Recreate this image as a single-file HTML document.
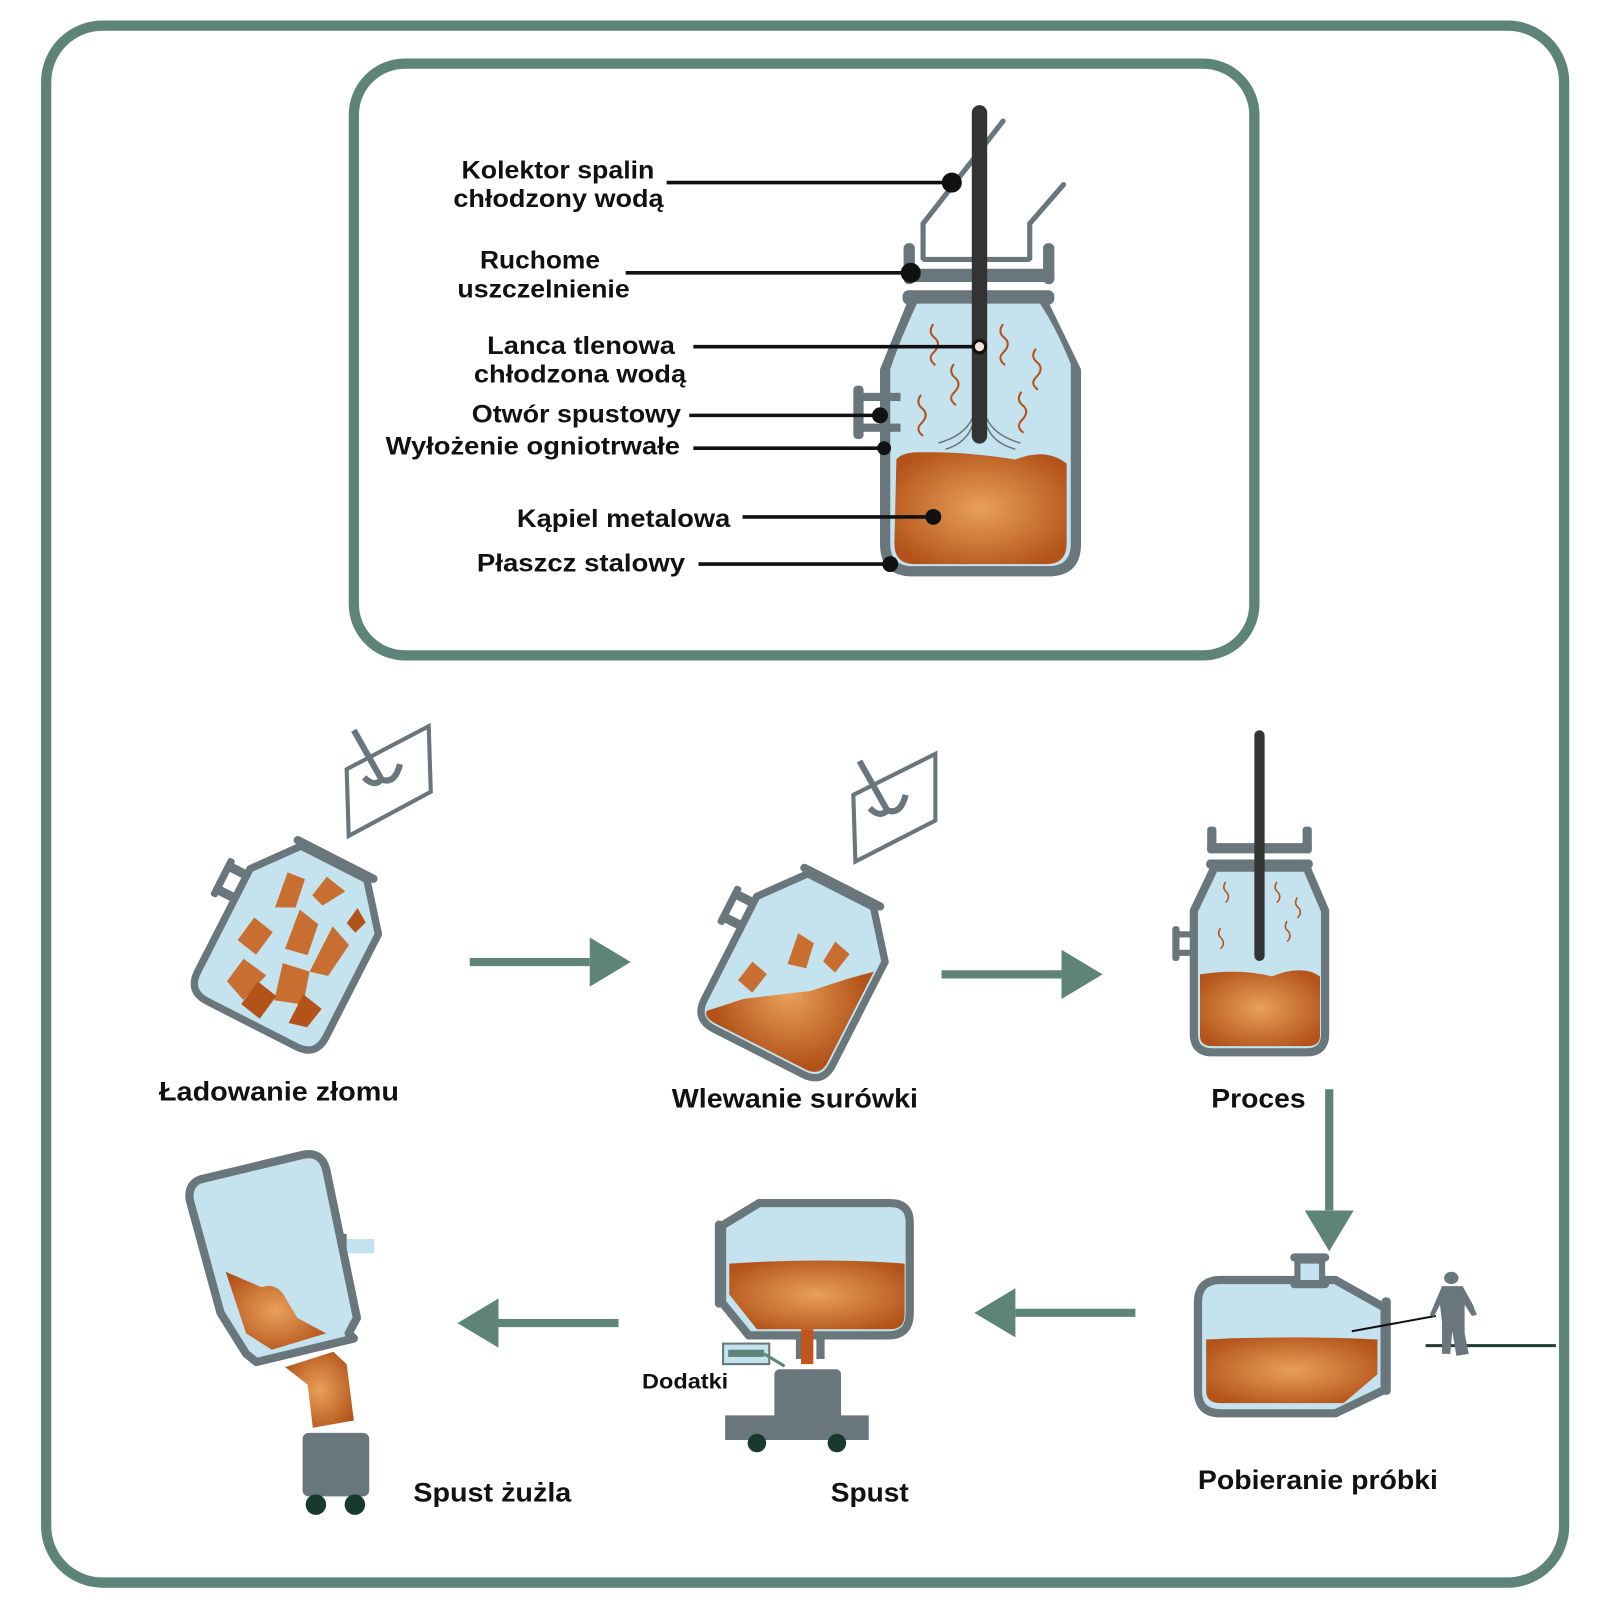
<!DOCTYPE html>
<html><head><meta charset="utf-8"><style>
html,body{margin:0;padding:0;background:#fff}
svg{display:block}
text{font-family:"Liberation Sans",sans-serif;font-weight:bold;fill:#111}
</style></head><body>
<svg width="1600" height="1600" viewBox="0 0 1560 1560" xmlns="http://www.w3.org/2000/svg">
<defs>
<radialGradient id="m" cx="50%" cy="50%" r="60%"><stop offset="0" stop-color="#e8a05a"/><stop offset="1" stop-color="#b3531a"/></radialGradient>
<marker id="ah" markerWidth="6" markerHeight="6" refX="0" refY="3" orient="auto" markerUnits="strokeWidth"><path d="M0,0 L5,3 L0,6 Z" fill="#5e8479"/></marker>
</defs>
<rect x="45" y="25" width="1480" height="1518" rx="55" fill="none" stroke="#5e8479" stroke-width="10"/>
<rect x="345" y="62" width="878" height="577" rx="50" fill="none" stroke="#5e8479" stroke-width="10"/>

<g>
<polyline points="900,252 900,218 978,118" fill="none" stroke="#69767c" stroke-width="5" stroke-linecap="round"/>
<polyline points="1004,252 1004,218 1037,180" fill="none" stroke="#69767c" stroke-width="5" stroke-linecap="round"/>
<line x1="900" y1="253" x2="1004" y2="253" stroke="#69767c" stroke-width="5"/>
<rect x="881" y="237" width="11" height="40" rx="5" fill="#69767c"/>
<rect x="1017" y="237" width="11" height="40" rx="5" fill="#69767c"/>
<rect x="881" y="262" width="147" height="13" rx="4" fill="#69767c"/>
<rect x="880" y="283" width="148" height="14" rx="6" fill="#69767c"/>
<path d="M884,296 L1023,296 L1054,360 L1054,530 Q1054,562 1022,562 L890,562 Q858,562 858,530 L858,360 Z" fill="#69767c"/>
<path d="M894,296 L1014,296 Q1030,320 1044,355 L1044,530 Q1044,552 1022,552 L890,552 Q868,552 868,530 L868,360 Q878,330 894,296 Z" fill="#c5e3ee"/>
<rect x="832" y="376" width="10" height="52" rx="4" fill="#69767c"/>
<rect x="836" y="383" width="42" height="8" fill="#69767c"/>
<rect x="836" y="413" width="42" height="8" fill="#69767c"/>
<path d="M874,448 Q880,440 900,441 Q940,440 990,448 Q1020,436 1040,452 L1040,530 Q1040,550 1020,550 L892,550 Q872,550 872,530 Z" fill="url(#m)"/>
<g fill="none" stroke="#b3531a" stroke-width="2">
<path d="M910,316 q-6,8 2,14 q6,6 -2,14 q-6,6 2,12"/><path d="M978,316 q-6,8 2,14 q6,6 -2,14 q-6,6 2,12"/>
<path d="M1010,340 q-6,8 2,14 q6,6 -2,14 q-6,6 2,12"/><path d="M930,355 q-6,8 2,14 q6,6 -2,14 q-6,6 2,12"/>
<path d="M996,382 q-6,8 2,14 q6,6 -2,14 q-6,6 2,12"/><path d="M898,385 q-6,8 2,14 q6,6 -2,14 q-6,6 2,12"/>
</g>
<g fill="none" stroke="#69767c" stroke-width="1.5">
<path d="M948,408 Q940,425 915,432"/><path d="M948,415 Q942,432 922,438"/><path d="M962,408 Q970,425 995,432"/><path d="M962,415 Q968,432 990,438"/>
</g>
<line x1="955" y1="110" x2="955" y2="425" stroke="#333" stroke-width="15" stroke-linecap="round"/>
</g>
<g stroke="#111" stroke-width="3.5" fill="#111">
<line x1="650" y1="178" x2="928" y2="178"/><circle cx="928" cy="178" r="8"/>
<line x1="610" y1="266" x2="888" y2="266"/><circle cx="888" cy="266" r="8"/>
<line x1="676" y1="338" x2="955" y2="338"/>
<line x1="672" y1="405" x2="858" y2="405"/><circle cx="858" cy="405" r="6"/>
<line x1="676" y1="437" x2="862" y2="437"/><circle cx="862" cy="437" r="5"/>
<line x1="724" y1="504" x2="910" y2="504"/><circle cx="910" cy="504" r="6"/>
<line x1="681" y1="550" x2="868" y2="550"/><circle cx="868" cy="550" r="6"/>
</g>
<circle cx="955" cy="338" r="6" fill="#f3e0dc" stroke="#111" stroke-width="3"/>
<g font-size="24" text-anchor="end" font-weight="normal">
<text x="638" y="174" textLength="188" lengthAdjust="spacingAndGlyphs">Kolektor spalin</text><text x="647" y="202" textLength="205" lengthAdjust="spacingAndGlyphs">chłodzony wodą</text>
<text x="585" y="262" textLength="117" lengthAdjust="spacingAndGlyphs">Ruchome</text><text x="614" y="290" textLength="168" lengthAdjust="spacingAndGlyphs">uszczelnienie</text>
<text x="658" y="345" textLength="183" lengthAdjust="spacingAndGlyphs">Lanca tlenowa</text><text x="669" y="373" textLength="207" lengthAdjust="spacingAndGlyphs">chłodzona wodą</text>
<text x="664" y="412" textLength="204" lengthAdjust="spacingAndGlyphs">Otwór spustowy</text>
<text x="663" y="443" textLength="287" lengthAdjust="spacingAndGlyphs">Wyłożenie ogniotrwałe</text>
<text x="712" y="514" textLength="208" lengthAdjust="spacingAndGlyphs">Kąpiel metalowa</text>
<text x="668" y="557" textLength="203" lengthAdjust="spacingAndGlyphs">Płaszcz stalowy</text>
</g>

<g stroke="#5e8479" stroke-width="8" fill="none">
<line x1="458" y1="938" x2="575" y2="938" marker-end="url(#ah)"/>
<line x1="918" y1="950" x2="1035" y2="950" marker-end="url(#ah)"/>
<line x1="1296" y1="1062" x2="1296" y2="1180" marker-end="url(#ah)"/>
<line x1="1107" y1="1280" x2="990" y2="1280" marker-end="url(#ah)"/>
<line x1="603" y1="1290" x2="486" y2="1290" marker-end="url(#ah)"/>
</g>

<g fill="none" stroke="#69767c" stroke-width="4">
<polygon points="338,750 418,708 420,772 340,815"/>
<polygon points="832,775 912,735 912,800 834,840"/>
</g>
<g fill="none" stroke="#69767c" stroke-width="6">
<path d="M345,712 L372,760 Q365,768 355,758"/><path d="M372,760 Q385,765 390,745"/>
<path d="M838,742 L865,790 Q858,798 848,788"/><path d="M865,790 Q878,795 883,775"/>
</g>

<g transform="translate(288,915) rotate(27) scale(0.9)">
<rect x="-100" y="-42" width="30" height="10" fill="#69767c"/><rect x="-100" y="-14" width="30" height="10" fill="#69767c"/><rect x="-104" y="-46" width="8" height="46" rx="3" fill="#69767c"/>
<path d="M-40,-92 L40,-92 L78,-45 L78,80 Q78,104 54,104 L-54,104 Q-78,104 -78,80 L-78,-45 Z" fill="#c5e3ee" stroke="#69767c" stroke-width="8" stroke-linejoin="round"/>
<line x1="-46" y1="-96" x2="46" y2="-96" stroke="#69767c" stroke-width="9" stroke-linecap="round"/>
<g fill="#c86e30">
<polygon points="-40,-60 -20,-62 -15,-30 -35,-20"/><polygon points="0,-75 25,-70 10,-45 -5,-50"/><polygon points="-10,-30 15,-25 20,10 -5,15"/>
<polygon points="30,-30 55,-20 50,20 30,25"/><polygon points="-50,0 -25,5 -30,35 -55,30"/><polygon points="0,30 30,25 40,60 10,70"/>
<polygon points="-40,45 -10,50 -20,85 -45,75"/><polygon points="35,50 60,55 55,80 35,85" fill="#b3531a"/><polygon points="-15,60 10,65 5,95 -20,90" fill="#b3531a"/>
<polygon points="45,-60 60,-50 55,-35 42,-40" fill="#b3531a"/>
</g>
</g>

<g transform="translate(782,942) rotate(27) scale(0.9)">
<rect x="-100" y="-42" width="30" height="10" fill="#69767c"/><rect x="-100" y="-14" width="30" height="10" fill="#69767c"/><rect x="-104" y="-46" width="8" height="46" rx="3" fill="#69767c"/>
<path d="M-40,-92 L40,-92 L78,-45 L78,80 Q78,104 54,104 L-54,104 Q-78,104 -78,80 L-78,-45 Z" fill="#c5e3ee" stroke="#69767c" stroke-width="8" stroke-linejoin="round"/>
<line x1="-46" y1="-96" x2="46" y2="-96" stroke="#69767c" stroke-width="9" stroke-linecap="round"/>
<path d="M-70,90 L-40,60 L-10,40 L20,20 L50,-10 L72,-30 L72,80 Q72,98 54,98 L-54,98 Q-70,98 -70,90 Z" fill="url(#m)"/>
<g fill="#c86e30"><polygon points="-20,-30 0,-28 5,0 -15,5"/><polygon points="20,-40 40,-35 35,-10 18,-15"/><polygon points="-50,20 -30,25 -35,50 -55,45"/></g>
</g>

<g>
<rect x="1177" y="806" width="9" height="24" rx="3" fill="#69767c"/><rect x="1270" y="806" width="9" height="24" rx="3" fill="#69767c"/>
<rect x="1177" y="822" width="102" height="10" rx="3" fill="#69767c"/>
<rect x="1176" y="838" width="104" height="9" rx="4" fill="#69767c"/>
<rect x="1143" y="903" width="7" height="34" rx="3" fill="#69767c"/>
<rect x="1146" y="908" width="22" height="6" fill="#69767c"/><rect x="1146" y="926" width="22" height="6" fill="#69767c"/>
<path d="M1184,846 L1274,846 L1292,888 L1292,1008 Q1292,1026 1274,1026 L1182,1026 Q1164,1026 1164,1008 L1164,888 Z" fill="#c5e3ee" stroke="#69767c" stroke-width="8" stroke-linejoin="round"/>
<path d="M1170,950 Q1210,944 1240,952 Q1270,940 1287,952 L1287,1010 Q1287,1020 1275,1020 L1182,1020 Q1170,1020 1170,1010 Z" fill="url(#m)"/>
<g fill="none" stroke="#b3531a" stroke-width="1.5"><path d="M1195,860 q-4,6 1,10 q4,5 -1,10"/><path d="M1245,860 q-4,6 1,10 q4,5 -1,10"/><path d="M1265,875 q-4,6 1,10 q4,5 -1,10"/><path d="M1190,905 q-4,6 1,10 q4,5 -1,10"/><path d="M1255,898 q-4,6 1,10 q4,5 -1,10"/></g>
<line x1="1228" y1="717" x2="1228" y2="932" stroke="#333" stroke-width="10" stroke-linecap="round"/>
</g>

<g>
<rect x="1262" y="1226" width="30" height="26" fill="#69767c"/><rect x="1268" y="1232" width="18" height="22" fill="#c5e3ee"/>
<rect x="1258" y="1222" width="38" height="8" rx="4" fill="#69767c"/>
<path d="M1190,1248 L1262,1248 L1262,1252 L1292,1252 L1292,1248 L1302,1248 L1350,1275 L1350,1355 L1302,1378 L1190,1378 Q1168,1378 1168,1356 L1168,1270 Q1168,1248 1190,1248 Z" fill="#c5e3ee" stroke="#69767c" stroke-width="8" stroke-linejoin="round"/>
<rect x="1347" y="1265" width="9" height="95" rx="4" fill="#69767c"/>
<path d="M1176,1306 Q1260,1302 1343,1306 L1343,1340 L1310,1368 L1190,1368 Q1176,1368 1176,1356 Z" fill="url(#m)"/>
<line x1="1318" y1="1298" x2="1400" y2="1283" stroke="#111" stroke-width="2"/>
<line x1="1390" y1="1312" x2="1517" y2="1312" stroke="#1f3b33" stroke-width="3"/>
<g fill="#69767c"><ellipse cx="1415" cy="1246" rx="7" ry="6"/><path d="M1406,1254 L1426,1254 L1436,1272 L1440,1282 L1435,1283 L1428,1272 L1428,1300 L1432,1320 L1420,1322 L1416,1298 L1414,1320 L1406,1320 L1406,1290 L1404,1272 L1398,1284 L1394,1282 Z"/></g>
</g>

<g>
<path d="M740,1173 L868,1173 Q887,1173 887,1192 L887,1280 Q887,1302 866,1302 L730,1302 L704,1270 L704,1195 Z" fill="#c5e3ee" stroke="#69767c" stroke-width="8" stroke-linejoin="round"/>
<rect x="697" y="1190" width="8" height="85" rx="4" fill="#69767c"/>
<path d="M711,1232 Q800,1226 882,1232 L882,1282 Q882,1296 868,1296 L738,1296 L711,1262 Z" fill="url(#m)"/>
<rect x="776" y="1300" width="8" height="25" fill="#69767c"/><rect x="796" y="1300" width="8" height="25" fill="#69767c"/>
<rect x="781" y="1296" width="12" height="34" fill="#c0561b"/>
<rect x="705" y="1310" width="45" height="20" fill="#c5e3ee" stroke="#69767c" stroke-width="2"/>
<rect x="710" y="1316" width="35" height="7" fill="#5e8479"/>
<line x1="745" y1="1320" x2="765" y2="1332" stroke="#5e8479" stroke-width="3"/>
<rect x="755" y="1335" width="65" height="60" rx="5" fill="#69767c"/>
<rect x="707" y="1380" width="140" height="24" fill="#69767c"/>
<circle cx="738" cy="1407" r="9" fill="#183930"/><circle cx="816" cy="1407" r="9" fill="#183930"/>
</g>

<g>
<rect x="330" y="1208" width="35" height="14" fill="#c5e3ee"/>
<rect x="330" y="1203" width="8" height="24" fill="#69767c"/>
<path d="M195,1150 L295,1126 Q313,1122 318,1140 L348,1285 L340,1300 L345,1305 L250,1328 L240,1320 L215,1280 L185,1170 Q183,1155 195,1150 Z" fill="#c5e3ee" stroke="#69767c" stroke-width="8" stroke-linejoin="round"/>
<path d="M220,1240 L255,1255 Q270,1250 278,1265 L290,1285 L318,1300 L265,1316 L240,1300 Z" fill="url(#m)"/>
<path d="M278,1333 L325,1318 L338,1330 L345,1385 L305,1392 L300,1350 Z" fill="url(#m)"/>
<rect x="295" y="1397" width="65" height="62" rx="6" fill="#69767c"/>
<circle cx="308" cy="1467" r="10" fill="#183930"/><circle cx="346" cy="1467" r="10" fill="#183930"/>
</g>

<g font-size="26" text-anchor="middle" font-weight="normal">
<text x="272" y="1073" textLength="234" lengthAdjust="spacingAndGlyphs">Ładowanie złomu</text>
<text x="775" y="1080" textLength="240" lengthAdjust="spacingAndGlyphs">Wlewanie surówki</text>
<text x="1227" y="1080" textLength="92" lengthAdjust="spacingAndGlyphs">Proces</text>
<text x="1285" y="1452" textLength="234" lengthAdjust="spacingAndGlyphs">Pobieranie próbki</text>
<text x="848" y="1464" textLength="76" lengthAdjust="spacingAndGlyphs">Spust</text>
<text x="480" y="1464" textLength="154" lengthAdjust="spacingAndGlyphs">Spust żużla</text>
<text x="668" y="1354" font-size="21" textLength="84" lengthAdjust="spacingAndGlyphs">Dodatki</text>
</g>
</svg>
</body></html>
